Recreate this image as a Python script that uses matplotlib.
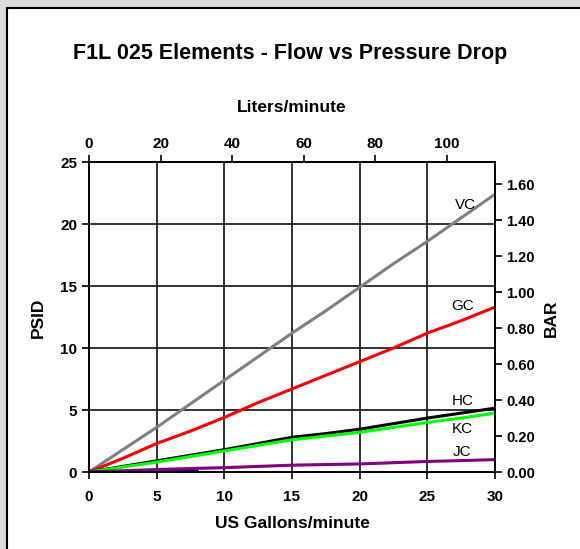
import matplotlib.pyplot as plt
from matplotlib.patches import Rectangle

plt.rcParams['font.family'] = ['Liberation Sans', 'DejaVu Sans']

# Flow in US gallons/minute
gpm = [0, 2.5, 5, 7.5, 10, 12.5, 15, 17.5, 20, 22.5, 25, 27.5, 30]

# Pressure drop in PSID per element
vc = [0, 1.8, 3.6, 5.5, 7.4, 9.3, 11.2, 13.0, 14.9, 16.8, 18.6, 20.5, 22.4]
gc = [0, 1.1, 2.3, 3.3, 4.4, 5.6, 6.7, 7.8, 8.9, 10.0, 11.2, 12.2, 13.3]
hc = [0, 0.45, 0.9, 1.35, 1.8, 2.3, 2.8, 3.1, 3.45, 3.9, 4.35, 4.75, 5.15]
kc = [0, 0.4, 0.8, 1.25, 1.7, 2.15, 2.6, 2.9, 3.2, 3.6, 4.0, 4.35, 4.75]
jc = [0, 0.1, 0.2, 0.28, 0.35, 0.45, 0.55, 0.6, 0.65, 0.75, 0.85, 0.92, 1.0]
blue_gpm = [0, 2.5, 5, 8]
blue = [0, 0.03, 0.05, 0.07]

lpm_ticks = [0, 20, 40, 60, 80, 100]
bar_ticks = [0.0, 0.2, 0.4, 0.6, 0.8, 1.0, 1.2, 1.4, 1.6]

GAL_TO_L = 3.785411784
PSI_TO_BAR = 0.0689476

fig = plt.figure(figsize=(5.8, 5.49), dpi=100)
fig.patch.set_facecolor('#dcdcdc')
fig.patches.append(Rectangle((7 / 580, -0.1), 1.2, 1 - 8 / 549 + 0.1,
                             transform=fig.transFigure, facecolor='white',
                             edgecolor='black', linewidth=1.5, zorder=-10))

ax = fig.add_axes([89 / 580, 1 - 472 / 549, 406 / 580, 310 / 549])
ax.patch.set_alpha(0)
ax.set_xlim(0, 30)
ax.set_ylim(0, 25)
ax.set_xticks([0, 5, 10, 15, 20, 25, 30])
ax.set_yticks([0, 5, 10, 15, 20, 25])
ax.grid(True, color='#222222', linewidth=1.3)
ax.set_axisbelow(True)
for s in ax.spines.values():
    s.set_color('black')
    s.set_linewidth(1.3)

ax.plot(gpm, vc, color='#808080', lw=2.2)
ax.plot(gpm, gc, color='#ff0000', lw=2.2)
ax.plot(gpm, hc, color='black', lw=2.2)
ax.plot(gpm, kc, color='#00ff00', lw=2.2)
ax.plot(blue_gpm, blue, color='#000080', lw=2.0)
ax.plot(gpm, jc, color='#800080', lw=2.2)

ax.tick_params(axis='both', labelsize=11, width=1.2, length=5, direction='out')
for lbl in ax.get_xticklabels() + ax.get_yticklabels():
    lbl.set_fontweight('bold')
ax.tick_params(axis='x', pad=8)

for name, x, y in [('VC', 27.8, 21.5), ('GC', 27.6, 13.4), ('HC', 27.6, 5.7),
                   ('KC', 27.6, 3.5), ('JC', 27.6, 1.6)]:
    ax.text(x, y, name, fontsize=11, ha='center', va='center')

# Liters/minute on top
axt = ax.twiny()
axt.set_xlim(0, 30 * GAL_TO_L)
axt.set_xticks(lpm_ticks)
axt.tick_params(axis='x', labelsize=11, width=1.2, length=5, pad=3)
for lbl in axt.get_xticklabels():
    lbl.set_fontweight('bold')

# BAR on right
axr = ax.twinx()
axr.set_ylim(0, 25 * PSI_TO_BAR)
axr.set_yticks(bar_ticks)
axr.set_yticklabels(['%.2f' % v for v in bar_ticks])
axr.tick_params(axis='y', labelsize=10.5, width=1.2, length=5, pad=3)
for lbl in axr.get_yticklabels():
    lbl.set_fontweight('bold')
for a in (axt, axr):
    for s in a.spines.values():
        s.set_linewidth(1.3)

fig.text(290 / 580, 1 - 54 / 549, 'F1L 025 Elements - Flow vs Pressure Drop',
         ha='center', va='center', fontsize=15.5, fontweight='bold')
fig.text(292 / 580, 1 - 108 / 549, 'Liters/minute', ha='center', va='center',
         fontsize=12.5, fontweight='bold')
fig.text(292 / 580, 1 - 523 / 549, 'US Gallons/minute', ha='center', va='center',
         fontsize=12.5, fontweight='bold')
fig.text(38 / 580, 1 - 318 / 549, 'PSID', ha='center', va='center',
         fontsize=12.5, fontweight='bold', rotation=90)
fig.text(551 / 580, 1 - 318 / 549, 'BAR', ha='center', va='center',
         fontsize=12.5, fontweight='bold', rotation=90)

fig.savefig('out.png', dpi=100, facecolor=fig.get_facecolor())
